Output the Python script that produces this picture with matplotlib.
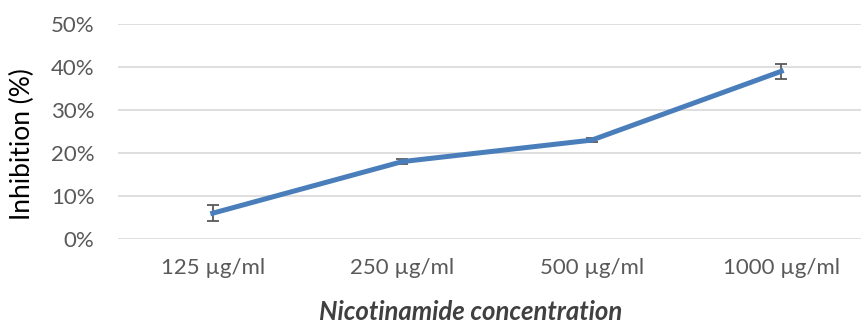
import matplotlib
matplotlib.use("Agg")
import matplotlib.pyplot as plt
from matplotlib.ticker import PercentFormatter

categories = ["125 µg/ml", "250 µg/ml", "500 µg/ml", "1000 µg/ml"]
inhibition = [0.06, 0.18, 0.23, 0.39]
errors = [0.018, 0.006, 0.005, 0.018]
yticks = [0.0, 0.1, 0.2, 0.3, 0.4, 0.5]

plt.rcParams['font.family'] = ['Lato', 'DejaVu Sans']

fig = plt.figure(figsize=(8.62, 3.25), dpi=100)
ax = fig.add_axes([118/862, (325-239)/325, 758/862, 215/325])

x = list(range(len(categories)))
ax.errorbar(x, inhibition, yerr=errors, color="#4A7EBB", lw=3.6,
            ecolor="#595959", elinewidth=1.3, capsize=4.5, capthick=1.3,
            zorder=3)
ax.set_xlim(-0.5, len(categories) - 0.5)
ax.set_ylim(0, 0.5)
ax.set_yticks(yticks)
ax.yaxis.set_major_formatter(PercentFormatter(1.0, decimals=0))
ax.set_xticks(x)
ax.set_xticklabels(categories)
ax.grid(axis='y', color="#D9D9D9", lw=1.2)
ax.set_axisbelow(True)
for s in ax.spines.values():
    s.set_visible(False)
ax.tick_params(axis='both', length=0, labelsize=16, labelcolor="#595959")
ax.tick_params(axis='x', pad=14)
ax.tick_params(axis='y', pad=17)
ax.set_ylabel("Inhibition (%)", fontsize=19, color="black",
              va='center', ha='center')
ax.yaxis.set_label_coords((22 - 118) / 758, (239 - 144) / 215)
ax.set_xlabel("Nicotinamide concentration", fontsize=18.5, fontstyle='italic',
              fontweight='bold', color="#404040", va='center', ha='center')
ax.xaxis.set_label_coords((471 - 118) / 758, -(312 - 239) / 215)

fig.savefig("out.png", dpi=100)
